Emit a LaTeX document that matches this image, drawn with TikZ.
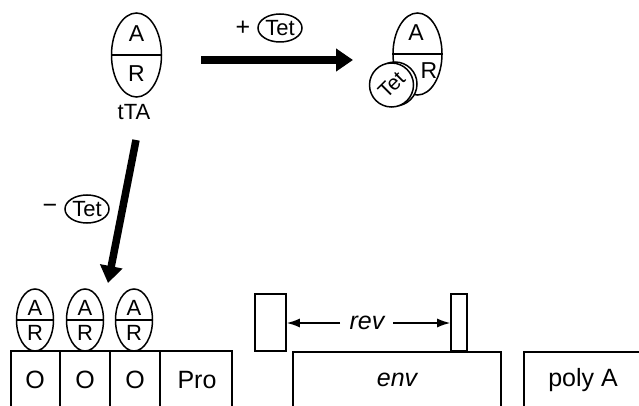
\documentclass[tikz,border=0pt]{standalone}
\usepackage{fontspec}
\setmainfont{Liberation Sans}
\usetikzlibrary{shapes.geometric,arrows.meta}
\begin{document}
\begin{tikzpicture}[x=1pt,y=-1pt,
  lbl/.style={font=\fontsize{23}{23}\selectfont, inner sep=0pt},
  boxlbl/.style={font=\fontsize{25}{25}\selectfont, inner sep=0pt},
  protein/.style={draw, line width=1.5pt, ellipse, inner sep=0pt},
  tetoval/.style={draw, line width=1.5pt, ellipse, minimum width=44pt, minimum height=28pt, inner sep=0pt, font=\fontsize{22}{22}\selectfont},
  bigarrow/.style={line width=7.5pt, -{Triangle[length=17pt,width=22pt]}},
  seg/.style={line width=1.6pt},
  revarrow/.style={line width=1.4pt, -{Latex[length=13pt,width=9pt]}}
]
\useasboundingbox (0,0) rectangle (639,406);

% free tTA
\node[protein, minimum width=50pt, minimum height=84pt] (tta) at (136.5,55) {};
\draw[line width=1.5pt] (tta.west) -- (tta.east);
\node[lbl] (ttaA) at (136.5,34) {A};
\node[lbl] (ttaR) at (136.5,74) {R};
\node[lbl, font=\fontsize{22}{22}\selectfont] (ttalbl) at (134,112) {tTA};

% + Tet arrow
\coordinate (h1) at (201,60);
\coordinate (h2) at (353,60);
\draw[bigarrow] (h1) -- (h2);
\node[lbl, font=\fontsize{25}{25}\selectfont] (plus) at (243,28) {+};
\node[tetoval] (tet1) at (280,28) {Tet};

% complex
\node[protein, minimum width=49pt, minimum height=82pt] (cx) at (417.5,54) {};
\draw[line width=1.5pt] (cx.west) -- (cx.east);
\node[lbl] (cxA) at (416,33) {A};
\node[lbl] (cxR) at (429,71) {R};
\draw[line width=1.5pt, fill=white] (395,84) circle[radius=22pt];
\draw[line width=1.5pt, fill=white] (391.5,85) circle[radius=22pt];
\node[inner sep=0pt, font=\fontsize{21}{21}\selectfont, rotate=45] (tet2) at (391.5,85) {Tet};

% - Tet arrow
\coordinate (v1) at (136,140);
\coordinate (v2) at (108,283);
\draw[bigarrow] (v1) -- (v2);
\node[lbl, font=\fontsize{25}{25}\selectfont] (minus) at (50,209) {−};
\node[tetoval] (tet3) at (87,209) {Tet};

% bound tTA on operators
\foreach \i/\x in {1/35,2/85,3/134}{
  \node[protein, minimum width=37pt, minimum height=62pt] (op\i) at (\x,320) {};
  \draw[line width=1.5pt] (op\i.west) -- (op\i.east);
  \node[lbl, font=\fontsize{22}{22}\selectfont] (opA\i) at (\x,308) {A};
  \node[lbl, font=\fontsize{22}{22}\selectfont] (opR\i) at (\x,333) {R};
}

% promoter region
\draw[seg] (11,406) -- (11,351) -- (232,351) -- (232,406);
\draw[seg] (60,351) -- (60,406);
\draw[seg] (110,351) -- (110,406);
\draw[seg] (160,351) -- (160,406);
\node[boxlbl] (o1) at (35,380) {O};
\node[boxlbl] (o2) at (85,380) {O};
\node[boxlbl] (o3) at (135,380) {O};
\node[boxlbl] (pro) at (197,380) {Pro};

% rev exons
\node[draw, seg, minimum width=31pt, minimum height=57pt, inner sep=0pt] (rev1) at (270.5,322.5) {};
\node[draw, seg, minimum width=16pt, minimum height=57pt, inner sep=0pt] (rev2) at (459,322.5) {};
\node[boxlbl, font=\fontsize{25}{25}\itshape\selectfont] (revlbl) at (367,323) {rev};
\coordinate (ra) at (340,323);
\coordinate (rb) at (393,323);
\draw[revarrow] (ra) -- (rev1.east |- ra);
\draw[revarrow] (rb) -- (rev2.west |- rb);

% env
\draw[seg] (293,406) -- (293,352) -- (501,352) -- (501,406);
\node[boxlbl, font=\fontsize{25}{25}\itshape\selectfont] (env) at (397,380) {env};

% poly A
\draw[seg] (524,406) -- (524,352) -- (639,352);
\node[boxlbl] (polya) at (583,380) {poly A};
\end{tikzpicture}
\end{document}
